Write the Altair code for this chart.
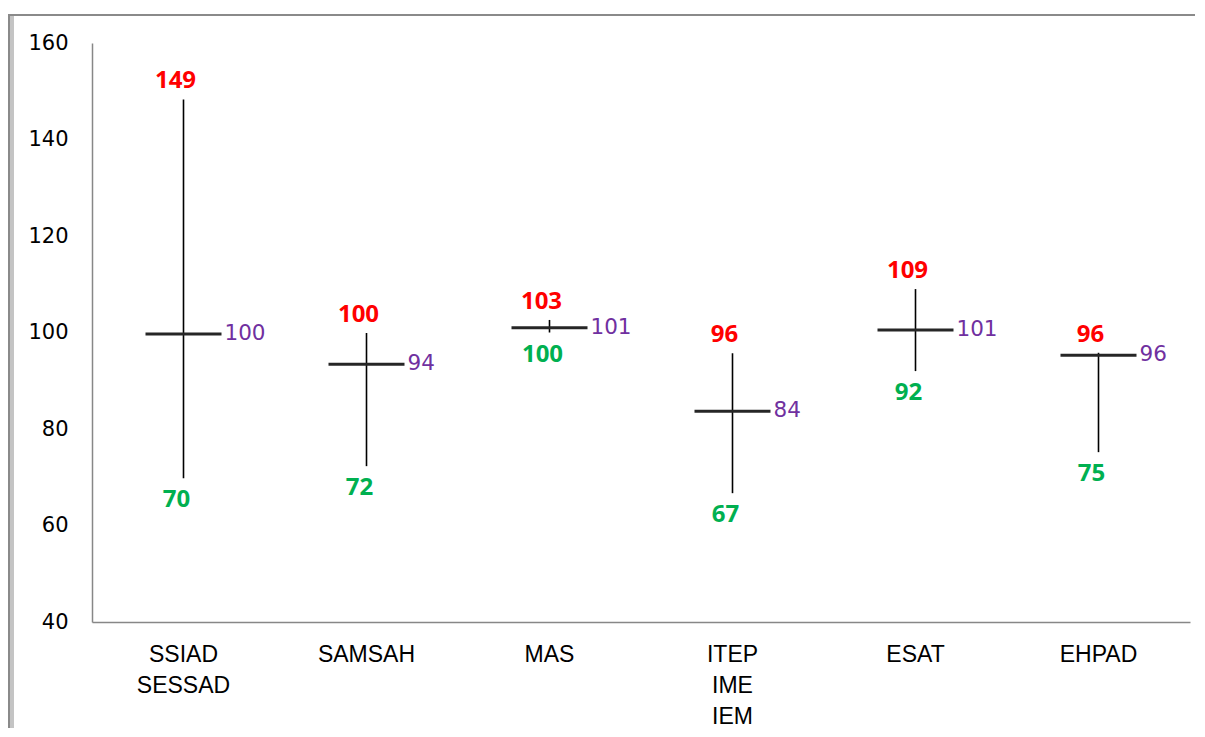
import altair as alt
import pandas as pd

categories = ["SSIAD\nSESSAD", "SAMSAH", "MAS", "ITEP\nIME\nIEM", "ESAT", "EHPAD"]
max_values = [148.3, 99.9, 102.6, 95.7, 109.0, 95.8]
min_values = [69.8, 72.3, 100.0, 66.7, 92.0, 75.2]
mean_values = [99.7, 93.4, 101.0, 83.7, 100.5, 95.3]
max_labels = ["149", "100", "103", "96", "109", "96"]
min_labels = ["70", "72", "100", "67", "92", "75"]
mean_labels = ["100", "94", "101", "84", "101", "96"]
y_ticks = [40, 60, 80, 100, 120, 140, 160]

df = pd.DataFrame({
    "cat": categories,
    "vmax": max_values,
    "vmin": min_values,
    "vmean": mean_values,
    "lmax": max_labels,
    "lmin": min_labels,
    "lmean": mean_labels,
})

x = alt.X(
    "cat:N",
    sort=categories,
    title=None,
    scale=alt.Scale(type="band", paddingInner=0, paddingOuter=0),
    axis=alt.Axis(
        labelExpr="split(datum.label, '\\n')",
        labelAngle=0,
        labelFont="Liberation Sans",
        labelFontSize=23,
        labelLineHeight=31,
        labelPadding=21,
        labelColor="#000000",
        ticks=False,
        domainColor="#878787",
        domainWidth=1.5,
        grid=False,
    ),
)
yscale = alt.Scale(domain=[40, 160], nice=False, zero=False)

base = alt.Chart(df)

frame = base.mark_rect(filled=False, stroke="#8a8a8a", strokeWidth=2).encode(
    x=alt.value(-83), x2=alt.value(1160), y=alt.value(-28), y2=alt.value(720)
)
shadow = base.mark_rule(color="#c4c4c4", strokeWidth=3).encode(
    x=alt.value(-80), y=alt.value(-27), y2=alt.value(720)
)

rules = base.mark_rule(color="#000000", strokeWidth=1.6).encode(
    x=x,
    y=alt.Y(
        "vmin:Q",
        scale=yscale,
        title=None,
        axis=alt.Axis(
            values=y_ticks,
            labelFont="DejaVu Sans",
            labelFontSize=21,
            labelPadding=24,
            labelColor="#000000",
            ticks=False,
            domainColor="#878787",
            domainWidth=1.5,
            grid=False,
        ),
    ),
    y2="vmax:Q",
)

ticks = base.mark_tick(orient="horizontal", size=76, thickness=3, color="#262626", opacity=1).encode(
    x=x, y=alt.Y("vmean:Q", scale=yscale)
)

max_text = base.mark_text(
    color="#FF0000", font="Open Sans", fontWeight="bold", fontSize=24,
    baseline="alphabetic", dy=-11, dx=-8
).encode(x=x, y=alt.Y("vmax:Q", scale=yscale), text="lmax:N")

min_text = base.mark_text(
    color="#00B050", font="Open Sans", fontWeight="bold", fontSize=24,
    baseline="top", dy=10, dx=-7
).encode(x=x, y=alt.Y("vmin:Q", scale=yscale), text="lmin:N")

mean_text = base.mark_text(
    color="#7030A0", font="DejaVu Sans", fontSize=21.5,
    align="left", baseline="middle", dx=41
).encode(x=x, y=alt.Y("vmean:Q", scale=yscale), text="lmean:N")

chart = alt.layer(frame, shadow, rules, ticks, max_text, min_text, mean_text).properties(
    width=1098,
    height=579,
    autosize=alt.AutoSizeParams(type="none"),
    padding={"left": 84, "top": 35, "right": 5, "bottom": 106},
    background="#ffffff",
).configure_view(stroke=None)

chart.save("out.html", embed_options={"renderer": "svg", "actions": False})
